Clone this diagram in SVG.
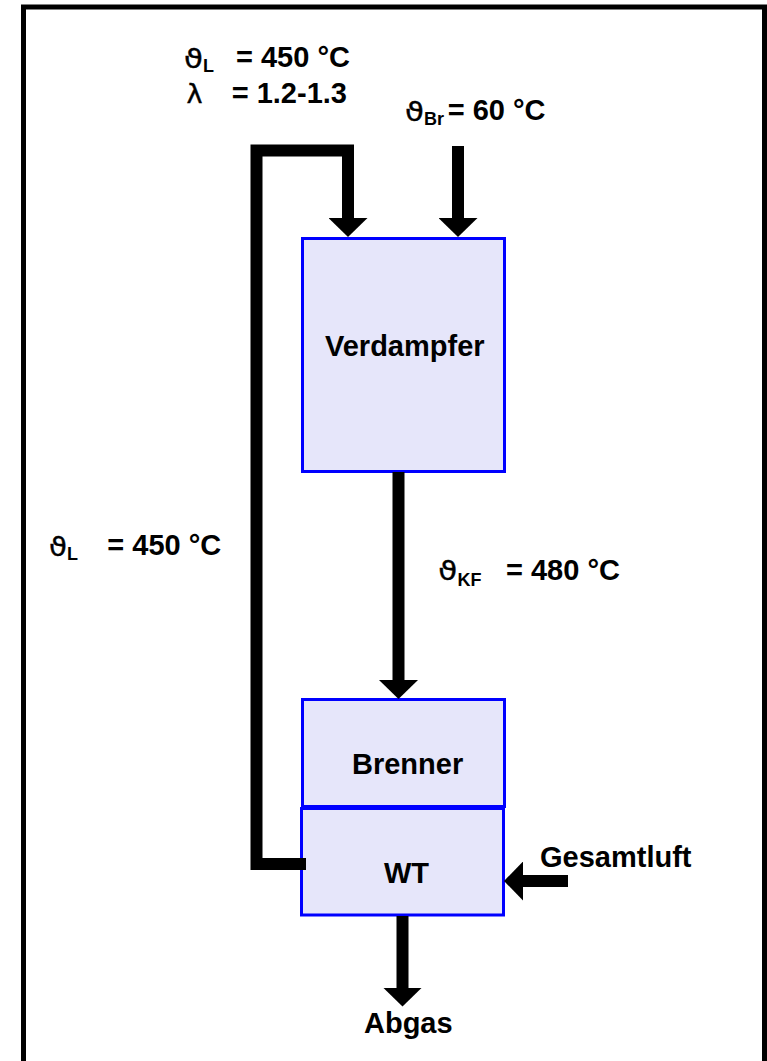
<svg xmlns="http://www.w3.org/2000/svg" width="767" height="1061" viewBox="0 0 767 1061">
<style>
.box{fill:#E6E6FA;stroke:#0000FF;stroke-width:3}
.t{font-family:"Liberation Sans",Arial,sans-serif;font-weight:bold;font-size:29px;fill:#000}
.sub{font-family:"Liberation Sans",Arial,sans-serif;font-weight:bold;font-size:18px;fill:#000}
.sym{font-family:"DejaVu Sans",sans-serif;font-size:27px;fill:#000;stroke:#000;stroke-width:0.4}
.c{fill:none;stroke:#000;stroke-width:12;stroke-linejoin:miter}
</style>
<defs>
<marker id="ah" markerUnits="userSpaceOnUse" viewBox="0 -19.5 19 39" markerWidth="19" markerHeight="39" refX="0.5" refY="0" orient="auto">
<path d="M0,-19.5 L19,0 L0,19.5 Z" fill="#000"/>
</marker>
</defs>
<rect x="23.5" y="7" width="741" height="1062" fill="#fff" stroke="#000" stroke-width="5"/>
<g id="verdampfer">
<rect class="box" x="302.5" y="238.5" width="202" height="233"/>
<text class="t" x="325" y="356">Verdampfer</text>
</g>
<g id="brenner">
<rect class="box" x="302.5" y="699.5" width="202" height="107"/>
<text class="t" x="352" y="774">Brenner</text>
</g>
<g id="wt">
<rect class="box" x="301.5" y="808.5" width="202" height="106.5"/>
<text class="t" x="384" y="883">WT</text>
</g>
<g id="connectors">
<polyline class="c" points="306,864 256.5,864 256.5,150.5 348,150.5 348,218.5" marker-end="url(#ah)"/>
<line class="c" x1="458" y1="146" x2="458" y2="218.5" marker-end="url(#ah)"/>
<line class="c" x1="398.5" y1="472" x2="398.5" y2="680.5" marker-end="url(#ah)"/>
<line class="c" x1="568" y1="881" x2="522.5" y2="881" marker-end="url(#ah)"/>
<line class="c" x1="402.5" y1="916" x2="402.5" y2="988" marker-end="url(#ah)"/>
</g>
<g id="labels">
<text class="sym" x="184" y="68" textLength="19" lengthAdjust="spacingAndGlyphs">ϑ</text><text class="sub" x="203" y="72">L</text><text class="t" x="236" y="67">= 450 °C</text>
<text class="sym" x="186.5" y="103" textLength="16" lengthAdjust="spacingAndGlyphs">λ</text><text class="t" x="231.7" y="103">= 1.2-1.3</text>
<text class="sym" x="405" y="121" textLength="19" lengthAdjust="spacingAndGlyphs">ϑ</text><text class="sub" x="424" y="125">Br</text><text class="t" x="447.7" y="120">= 60 °C</text>
<text class="sym" x="49" y="556" textLength="18" lengthAdjust="spacingAndGlyphs">ϑ</text><text class="sub" x="67" y="559.5">L</text><text class="t" x="107.3" y="555">= 450 °C</text>
<text class="sym" x="438.3" y="580" textLength="19" lengthAdjust="spacingAndGlyphs">ϑ</text><text class="sub" x="457.5" y="586">KF</text><text class="t" x="506" y="579.5">= 480 °C</text>
<text class="t" x="540" y="867">Gesamtluft</text>
<text class="t" x="364" y="1033">Abgas</text>
</g>
</svg>
